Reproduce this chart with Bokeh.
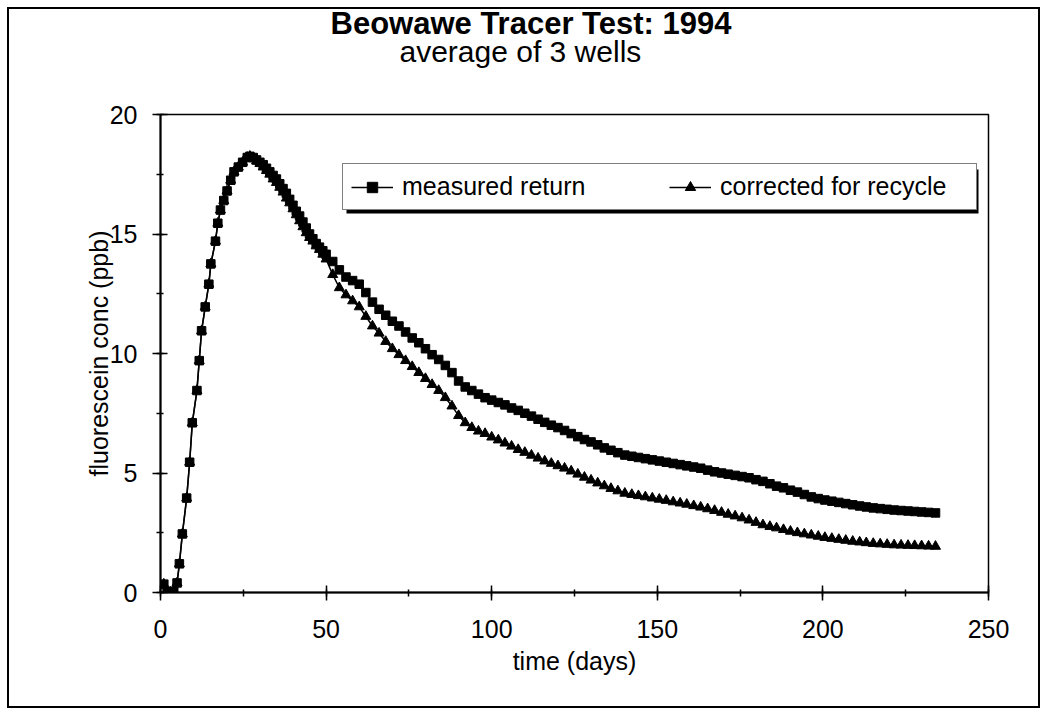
from bokeh.plotting import figure
from bokeh.models import (Range1d, Legend, LegendItem, Title, BoxAnnotation,
                          SingleIntervalTicker)
from bokeh.embed import file_html
from bokeh.resources import INLINE

title_text = "Beowawe Tracer Test: 1994"
subtitle_text = "average of 3 wells"
x_label = "time (days)"
y_label = "fluorescein conc (ppb)"
series_names = ["measured return", "corrected for recycle"]

days = [1, 2, 3, 4, 5, 5.7, 6.6, 7.9, 8.8, 9.6, 11.0, 11.7, 12.4, 13.5, 14.6,
        15.2, 16.6, 17.3, 18.1, 19.1, 20.1, 21.2, 22.2, 23.5, 24.8, 26.2,
        27, 28, 29, 30, 31, 32, 33, 34, 35, 36, 37, 38, 39, 40, 41, 42, 43, 44,
        45, 46, 47, 48, 49, 50,
        52, 54, 56, 58, 60, 62, 64, 66, 68, 70, 72, 74, 76, 78, 80, 82, 84, 86,
        88, 90, 92, 94, 96, 98, 100, 102, 104, 106, 108, 110, 112, 114, 116,
        118, 120, 122, 124, 126, 128, 130, 132, 134,
        136, 138.1, 140.2, 142.3, 144.3, 146.4, 148.5, 150.6, 152.7, 154.8,
        156.9, 158.9, 161.0, 163.1, 165.2, 167.3, 169.4, 171.4, 173.5, 175.6,
        177.7, 179.8, 181.9, 184.0, 186.0, 188.1, 190.2, 192.3, 194.4, 196.5,
        198.6, 200.6, 202.7, 204.8, 206.9, 209.0, 211.1, 213.1, 215.2, 217.3,
        219.4, 221.5, 223.6, 225.7, 227.7, 229.8, 231.9, 234.0]

measured = [0.35, 0.05, 0.0, 0.05, 0.4, 1.2, 2.45, 3.95, 5.45, 7.1, 8.45, 9.7,
            10.95, 11.95, 12.9, 13.75, 14.7, 15.45, 16.0, 16.4, 16.8, 17.25,
            17.6, 17.8, 18.0, 18.2,
            18.25, 18.2, 18.1, 18.0, 17.9, 17.75, 17.6, 17.45, 17.3, 17.1, 16.9,
            16.7, 16.45, 16.2, 15.95, 15.75, 15.5, 15.25, 15.0, 14.8, 14.6,
            14.45, 14.3, 14.15,
            13.85, 13.5, 13.2, 13.05, 12.9, 12.55, 12.15, 11.85, 11.6, 11.35,
            11.15, 10.9, 10.65, 10.45, 10.2, 9.95, 9.75, 9.5, 9.2, 8.85, 8.6,
            8.45, 8.3, 8.15, 8.05, 7.95, 7.85, 7.72, 7.62, 7.5, 7.38, 7.25, 7.12,
            7.0, 6.9, 6.78, 6.65, 6.52, 6.4, 6.3, 6.18, 6.05, 5.95, 5.85, 5.75,
            5.7, 5.65, 5.6, 5.55, 5.5, 5.45, 5.4, 5.35, 5.3, 5.25, 5.2, 5.12,
            5.05, 5.0, 4.95, 4.9, 4.85, 4.8, 4.72, 4.65, 4.55, 4.45, 4.38, 4.28,
            4.2, 4.1, 4.0, 3.93, 3.87, 3.82, 3.77, 3.72, 3.67, 3.62, 3.58, 3.54,
            3.51, 3.48, 3.45, 3.43, 3.41, 3.39, 3.37, 3.35, 3.33]

corrected = [0.35, 0.05, 0.0, 0.05, 0.4, 1.2, 2.45, 3.95, 5.45, 7.1, 8.45, 9.7,
             10.95, 11.95, 12.9, 13.75, 14.7, 15.45, 16.0, 16.4, 16.8, 17.25,
             17.6, 17.8, 18.0, 18.2,
             18.25, 18.15, 18.05, 17.95, 17.8, 17.65, 17.5, 17.3, 17.15, 16.95,
             16.75, 16.5, 16.3, 16.05, 15.8, 15.55, 15.3, 15.05, 14.85, 14.7,
             14.5, 14.35, 14.15, 13.95,
             13.3, 12.75, 12.45, 12.2, 11.95, 11.55, 11.15, 10.85, 10.5, 10.2,
             9.95, 9.7, 9.45, 9.2, 8.95, 8.7, 8.45, 8.15, 7.8, 7.4, 7.1, 6.9,
             6.75, 6.65, 6.5, 6.38, 6.25, 6.12, 5.98, 5.86, 5.74, 5.62, 5.5, 5.4,
             5.3, 5.2, 5.08, 4.95, 4.82, 4.7, 4.58, 4.46, 4.35, 4.25, 4.15, 4.1,
             4.05, 4.0, 3.95, 3.9, 3.85, 3.79, 3.74, 3.69, 3.63, 3.57, 3.5, 3.43,
             3.35, 3.27, 3.2, 3.12, 3.03, 2.93, 2.83, 2.76, 2.7, 2.63, 2.56, 2.5,
             2.45, 2.4, 2.35, 2.3, 2.26, 2.22, 2.18, 2.14, 2.11, 2.08, 2.05, 2.03,
             2.01, 1.99, 1.98, 1.97, 1.96, 1.95, 1.94, 1.93]

FONT = "Liberation Sans"

p = figure(width=1047, height=715, output_backend="svg", toolbar_location=None,
           title=None,
           x_range=Range1d(0, 250), y_range=Range1d(0, 20),
           min_border_left=160, min_border_right=59, min_border_top=114,
           min_border_bottom=123)
p.styles = {"outline": "2px solid black", "outline-offset": "-9px"}
p.background_fill_color = "white"
p.border_fill_color = None
p.outline_line_color = "black"
p.outline_line_width = 1.5
p.xgrid.visible = False
p.ygrid.visible = False

p.xaxis.ticker = SingleIntervalTicker(interval=50, num_minor_ticks=2)
p.yaxis.ticker = SingleIntervalTicker(interval=5, num_minor_ticks=2)
for ax in (p.xaxis, p.yaxis):
    ax.axis_line_color = "black"
    ax.axis_line_width = 2
    ax.major_tick_line_color = "black"
    ax.minor_tick_line_color = "black"
    ax.major_tick_line_width = 1.5
    ax.minor_tick_line_width = 1.5
    ax.major_tick_in = 7
    ax.major_tick_out = 8
    ax.minor_tick_in = 3
    ax.minor_tick_out = 4
    ax.major_label_text_font = FONT
    ax.major_label_text_font_size = "25px"
    ax.major_label_text_color = "black"
    ax.axis_label_text_font = FONT
    ax.axis_label_text_font_size = "25px"
    ax.axis_label_text_font_style = "normal"
    ax.axis_label_text_color = "black"
p.xaxis.axis_label = x_label
p.yaxis.axis_label = y_label
p.xaxis.major_label_standoff = 19
p.yaxis.major_label_standoff = 15
p.xaxis.axis_label_standoff = 6
p.yaxis.axis_label_standoff = -6

lc = p.line(days, corrected, line_color="black", line_width=1.5)
sc = p.scatter(days, corrected, marker="triangle", size=10,
               fill_color="black", line_color="black")
lm = p.line(days, measured, line_color="black", line_width=1.5)
sm = p.scatter(days, measured, marker="square", size=8.5,
               fill_color="black", line_color="black")

shadow = BoxAnnotation(left=186, right=818, bottom=379, top=423,
                       left_units="screen", right_units="screen",
                       top_units="screen", bottom_units="screen",
                       fill_color="black", fill_alpha=1.0, line_alpha=0)
p.add_layout(shadow)

legend = Legend(items=[LegendItem(label=series_names[0], renderers=[lm, sm]),
                       LegendItem(label=series_names[1], renderers=[lc, sc])],
                location=(182, 382), orientation="horizontal",
                border_line_color="black", border_line_width=1.5,
                background_fill_color="white", background_fill_alpha=1.0,
                label_text_font=FONT, label_text_font_size="25px",
                label_text_color="black", glyph_width=42, glyph_height=26,
                label_standoff=9, label_width=248, spacing=19, padding=8,
                margin=0)
p.add_layout(legend)

# spacer nearest the frame, then subtitle, then title (stacked outward)
p.add_layout(Title(text=" ", text_font=FONT, text_font_size="1px",
                   standoff=44), "above")
p.add_layout(Title(text=subtitle_text, text_font=FONT, text_font_size="30px",
                   text_font_style="normal", text_color="black",
                   align="left", offset=239, standoff=0), "above")
p.add_layout(Title(text=title_text, text_font=FONT, text_font_size="31px",
                   text_font_style="bold", text_color="black",
                   align="left", offset=170, standoff=-16), "above")

open("out.html", "w").write(file_html(p, INLINE))
